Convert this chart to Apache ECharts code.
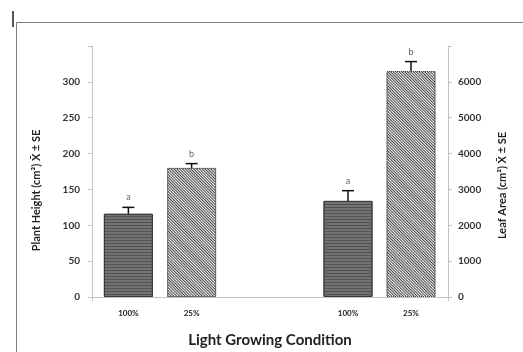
<!DOCTYPE html>
<html>
<head>
<meta charset="utf-8">
<script src="https://cdn.jsdelivr.net/npm/echarts@6/dist/echarts.min.js"></script>
<style>html,body{margin:0;padding:0;background:#fff}#c{width:523px;height:352px}</style>
</head>
<body>
<div id="c"></div>
<script>
// ---- data ----
const categories = ['100%', '25%'];
const heightMean = [116, 180];
const heightSE = [9, 6];
const heightLetters = ['a', 'b'];
const areaMean = [2680, 6300];
const areaSE = [285, 265];
const areaLetters = ['a', 'b'];
const heightTicks = [0, 350, 50];   // min, max, interval
const areaTicks = [0, 7000, 1000];

const FONT = 'Lato';
const solidStyle = {
  color: '#727272', borderColor: '#3a3a3a', borderWidth: 1,
  decal: { symbol: 'rect', symbolSize: 1, dashArrayX: [1, 0], dashArrayY: [1, 1.5], rotation: 0, color: '#525252' }
};
const hatchStyle = {
  color: '#f4f4f4', borderColor: '#444', borderWidth: 1, borderType: 'dotted',
  decal: { symbol: 'rect', symbolSize: 1, dashArrayX: [1, 0], dashArrayY: [1, 1], rotation: Math.PI / 4, color: '#4a4a4a' }
};
const styles = [solidStyle, hatchStyle];

function barData(vals) {
  return vals.map((v, i) => ({ value: v, itemStyle: styles[i] }));
}
function errData(means, se, letters) {
  return means.map((m, i) => [i, m, m + se[i], letters[i]]);
}
function renderErr(params, api) {
  const x = api.value(0);
  const base = api.coord([x, api.value(1)]);
  const tip = api.coord([x, api.value(2)]);
  const cap = 6;
  return {
    type: 'group',
    children: [
      { type: 'line', shape: { x1: base[0], y1: base[1], x2: tip[0], y2: tip[1] }, style: { stroke: '#111', lineWidth: 1.5 } },
      { type: 'line', shape: { x1: tip[0] - cap, y1: tip[1], x2: tip[0] + cap, y2: tip[1] }, style: { stroke: '#111', lineWidth: 1.5 } },
      { type: 'text', style: { text: api.value(3), x: tip[0], y: tip[1] - 10, align: 'center', verticalAlign: 'middle', fill: '#666', font: '9px ' + FONT } }
    ]
  };
}

const axisGray = '#c4c4c4';
const gridTop = 46, gridBottom = 55;

const chart = echarts.init(document.getElementById('c'));
chart.setOption({
  animation: false,
  backgroundColor: '#fff',
  grid: [
    { left: 92, right: 75, top: gridTop, bottom: gridBottom, containLabel: false, outerBoundsMode: 'none' },
    { left: 96.75, width: 126.5, top: gridTop, bottom: gridBottom, containLabel: false, outerBoundsMode: 'none' },
    { left: 316.5, width: 126, top: gridTop, bottom: gridBottom, containLabel: false, outerBoundsMode: 'none' }
  ],
  xAxis: [
    { gridIndex: 0, type: 'value', min: 0, max: 1, interval: 1,
      axisLine: { show: true, lineStyle: { color: axisGray, width: 1 } },
      axisTick: { show: true, length: 4, lineStyle: { color: axisGray } },
      axisLabel: { show: false }, splitLine: { show: false },
      name: 'Light Growing Condition', nameLocation: 'middle', nameGap: 36,
      nameTextStyle: { fontFamily: FONT, fontSize: 15, fontWeight: 'bold', color: '#222' } },
    { gridIndex: 1, type: 'category', data: categories,
      axisLine: { show: false }, axisTick: { show: false },
      axisLabel: { margin: 12, fontFamily: FONT, fontSize: 8, fontWeight: 'bold', color: '#222' } },
    { gridIndex: 2, type: 'category', data: categories,
      axisLine: { show: false }, axisTick: { show: false },
      axisLabel: { margin: 12, fontFamily: FONT, fontSize: 8, fontWeight: 'bold', color: '#222' } }
  ],
  yAxis: [
    { gridIndex: 0, type: 'value', position: 'left', min: heightTicks[0], max: heightTicks[1], interval: heightTicks[2],
      axisLine: { show: true, lineStyle: { color: axisGray } },
      axisTick: { show: true, length: 4, lineStyle: { color: axisGray } },
      splitLine: { show: false },
      axisLabel: { margin: 12, fontFamily: FONT, fontSize: 10, fontWeight: 'bold', color: '#333',
        formatter: v => (v === heightTicks[1] ? '' : String(v)) },
      name: 'Plant Height (cm\u00B2) X\u0304 \u00B1 SE', nameLocation: 'middle', nameGap: 50, nameRotate: 90,
      nameTextStyle: { fontFamily: FONT, fontSize: 11, fontWeight: 'bold', color: '#222', padding: [0, 38, 0, 0] } },
    { gridIndex: 0, type: 'value', position: 'right', min: areaTicks[0], max: areaTicks[1], interval: areaTicks[2],
      axisLine: { show: true, lineStyle: { color: axisGray } },
      axisTick: { show: true, length: 4, lineStyle: { color: axisGray } },
      splitLine: { show: false },
      axisLabel: { margin: 10, fontFamily: FONT, fontSize: 10, fontWeight: 'bold', color: '#333',
        formatter: v => (v === areaTicks[1] ? '' : String(v)) },
      name: 'Leaf Area (cm\u00B2) X\u0304 \u00B1 SE', nameLocation: 'middle', nameGap: 49, nameRotate: 90,
      nameTextStyle: { fontFamily: FONT, fontSize: 11, fontWeight: 'bold', color: '#222', padding: [0, 28, 0, 0] } },
    { gridIndex: 1, type: 'value', show: false, min: heightTicks[0], max: heightTicks[1] },
    { gridIndex: 2, type: 'value', show: false, min: areaTicks[0], max: areaTicks[1] }
  ],
  series: [
    { type: 'bar', xAxisIndex: 1, yAxisIndex: 2, barWidth: 49, data: barData(heightMean) },
    { type: 'bar', xAxisIndex: 2, yAxisIndex: 3, barWidth: 49, data: barData(areaMean) },
    { type: 'custom', xAxisIndex: 1, yAxisIndex: 2, renderItem: renderErr, data: errData(heightMean, heightSE, heightLetters), z: 5 },
    { type: 'custom', xAxisIndex: 2, yAxisIndex: 3, renderItem: renderErr, data: errData(areaMean, areaSE, areaLetters), z: 5 }
  ],
  graphic: [
    { type: 'polyline', shape: { points: [[16.5, 352], [16.5, 22.5], [523, 22.5]] }, style: { stroke: '#7a7a7a', lineWidth: 1, fill: null } },
    { type: 'rect', shape: { x: 12, y: 11, width: 2, height: 16 }, style: { fill: '#555' } }
  ]
});
</script>
</body>
</html>
